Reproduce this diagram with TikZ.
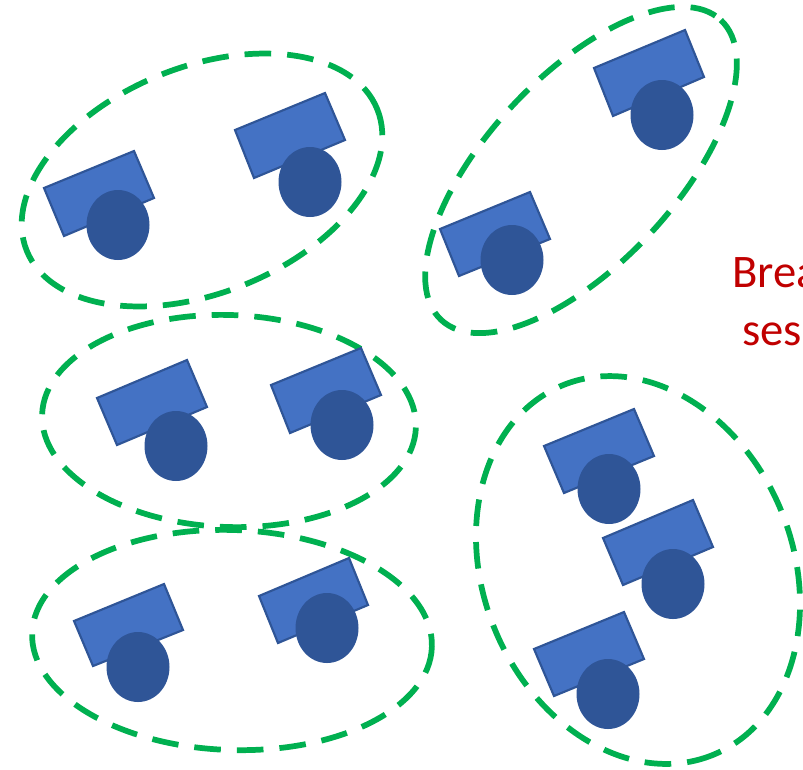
\documentclass[tikz,border=0pt]{standalone}
\usepackage{fontspec}
\setmainfont{Carlito}
\definecolor{grp}{HTML}{00B050}
\definecolor{desk}{HTML}{4472C4}
\definecolor{seat}{HTML}{2F5597}
\definecolor{lbl}{HTML}{C00000}
\tikzset{
  deskbox/.style={fill=desk,draw=seat,line width=1.6pt,line join=miter},
  seatdisc/.style={fill=seat,draw=none},
  grpline/.style={draw=grp,line width=4.3pt,dash pattern=on 20pt off 12pt},
  lbltext/.style={text=lbl,font=\fontsize{35}{42}\selectfont,inner sep=0pt,anchor=base west}
}
\newcommand{\studyunit}[5]{%
  \draw[deskbox] (#1) -- (#2) -- (#3) -- (#4) -- cycle;
  \fill[seatdisc] (#5) ellipse [x radius=31.5,y radius=35];
}
\newcommand{\grpring}[5]{%
  \draw[grpline,shift={(#1,#2)},rotate=#5] (0,0) circle [x radius=#3,y radius=#4];
}
\begin{document}
\begin{tikzpicture}[x=0.75pt,y=-0.75pt]
\useasboundingbox (0,0) rectangle (803,769);
\clip (0,0) rectangle (803,769);
\grpring{202}{180}{189}{113}{22}
\grpring{581}{170}{205}{94}{47}
\grpring{229}{421}{187}{106}{-2}
\grpring{232}{640}{200}{110}{-2}
\grpring{638}{570}{199.5}{155}{-68}
\studyunit{44,188}{134,151}{154,198}{64,236}{118,225}
\studyunit{235,130}{325,93}{345,140}{254,178}{310,182}
\studyunit{594,68}{685,30}{704,77}{613,116}{662,115}
\studyunit{440,229}{530,192}{550,239}{459,276}{512,260}
\studyunit{97,398}{187,360}{207,407}{117,445}{176,446}
\studyunit{271,385}{361,348}{381,395}{290,433}{342,425}
\studyunit{544,446}{634,409}{654,456}{564,493}{609,489}
\studyunit{603,538}{693,500}{713,547}{623,585}{673,584}
\studyunit{534,649}{624,612}{644,659}{554,696}{608,694}
\studyunit{74,621}{164,584}{183,630}{93,666}{138,667}
\studyunit{259,596}{349,558}{368,605}{278,643}{327,628}
\node[lbltext] (brk) at (732,287) {Brea};
\node[lbltext] (ses) at (742,345) {ses};
\end{tikzpicture}
\end{document}
